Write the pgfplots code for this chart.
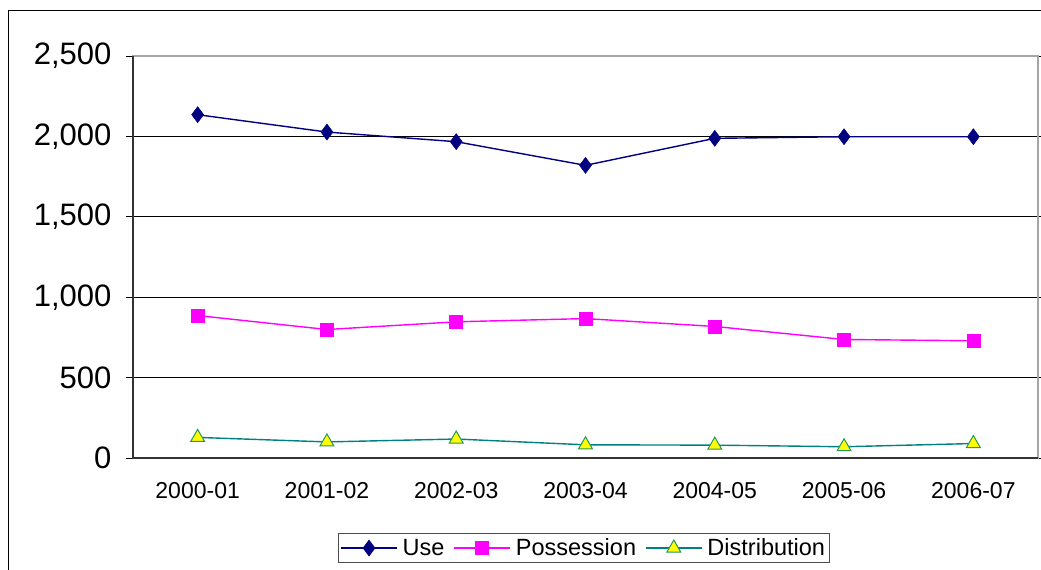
\documentclass[border=0pt]{standalone}
\usepackage{pgfplots}
\pgfplotsset{compat=1.18}
\usepackage{fontspec}
\setmainfont{Liberation Sans}
\definecolor{usecol}{RGB}{0,0,128}
\definecolor{poscol}{RGB}{255,0,255}
\definecolor{distcol}{RGB}{0,128,128}
\definecolor{distedge}{RGB}{40,150,90}
\definecolor{distfill}{RGB}{255,255,0}
\begin{document}
\begin{tikzpicture}[x=1pt,y=1pt]
\useasboundingbox (0,0) rectangle (1041,570);
\draw[black, line width=1pt] (8,0) -- (8,559) -- (1041,559);
\begin{axis}[
  at={(133pt,112pt)}, anchor=south west,
  width=905pt, height=402pt, scale only axis,
  xmin=-0.5, xmax=6.5, ymin=0, ymax=2500,
  xtick={0,1,2,3,4,5,6},
  xticklabels={2000-01,2001-02,2002-03,2003-04,2004-05,2005-06,2006-07},
  major x tick style={draw=none},
  extra x ticks={-0.5,0.5,1.5,2.5,3.5,4.5,5.5,6.5},
  extra x tick labels={},
  extra x tick style={major tick length=7pt, tick align=outside, grid=none, tick style={black, line width=0.8pt}},
  ytick={0,500,1000,1500,2000,2500},
  ymajorgrids, grid style={black, line width=0.8pt},
  tick align=outside, major tick length=7pt,
  ytick style={black, line width=0.8pt},
  axis line style={gray!70, line width=1.2pt},
  scaled ticks=false,
  /pgf/number format/assume math mode=true,
  /pgf/number format/1000 sep={,},
  yticklabel style={font=\fontsize{31}{34}\selectfont, xshift=-11pt},
  xticklabel style={font=\fontsize{23}{26}\selectfont, yshift=-14pt},
  legend columns=3,
  legend style={at={(0.498,-0.224)}, anchor=center, draw=black!70, line width=0.8pt,
    font=\fontsize{23.5}{27}\selectfont, inner xsep=2pt, inner ysep=3pt,
    /tikz/every odd column/.append style={column sep=3pt},
    /tikz/every even column/.append style={column sep=7pt}},
  legend image code/.code={
    \draw[mark repeat=2,mark phase=2,#1] plot coordinates {(0pt,0pt) (28pt,0pt) (56pt,0pt)};
  },
  clip=false,
]
\addplot[usecol, line width=1.4pt, mark=diamond*, mark size=8pt, mark options={fill=usecol, draw=usecol, line width=0.5pt}]
  coordinates {(0,2135) (1,2027) (2,1967) (3,1820) (4,1988) (5,1998) (6,1998)};
\addlegendentry{Use}
\addplot[poscol, line width=1.4pt, mark=square*, mark size=6.5pt, mark options={fill=poscol, draw=poscol, line width=0.5pt}]
  coordinates {(0,886) (1,799) (2,847) (3,867) (4,818) (5,737) (6,729)};
\addlegendentry{Possession}
\addplot[distcol, line width=1.4pt, mark=triangle*, mark size=8pt, mark options={fill=distfill, draw=distedge, line width=1pt}]
  coordinates {(0,128) (1,100) (2,118) (3,82) (4,80) (5,70) (6,90)};
\addlegendentry{Distribution}
\draw[black!80, line width=1.2pt] (rel axis cs:0,1) -- (rel axis cs:0,0) -- (rel axis cs:1,0);
\end{axis}
\end{tikzpicture}
\end{document}
